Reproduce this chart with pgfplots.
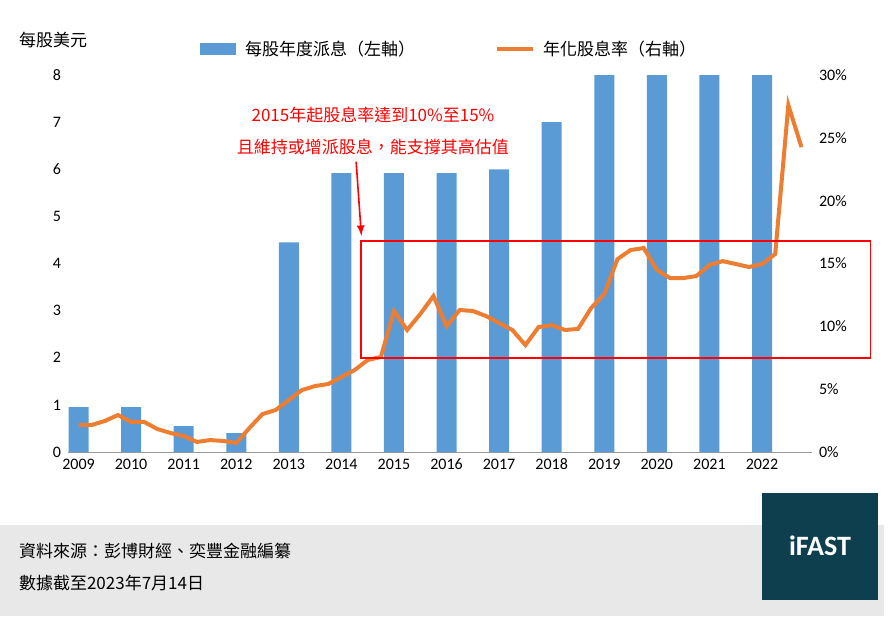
\documentclass[border=0pt]{standalone}
\usepackage{pgfplots}
\pgfplotsset{compat=1.18}
\usepackage{fontspec}
\setmainfont{Carlito}
\newfontfamily\cjk{Noto Sans CJK TC}
\definecolor{barblue}{HTML}{5B9BD5}
\definecolor{lineor}{HTML}{ED7D31}
\definecolor{teal}{HTML}{0E3F4F}
\begin{document}
\begin{tikzpicture}
\useasboundingbox (0,0) rectangle (447pt,308pt);
\begin{scope}[x=0.5pt,y=-0.5pt,yshift=308pt]
\fill[black!9] (0,525) rectangle (884,616);
\fill[teal] (762,493) rectangle (878,600);
\node[white,font=\bfseries\fontsize{14}{14}\selectfont] at (820,546) {iFAST};
\node[anchor=west,font=\cjk\fontsize{8.5}{10}\selectfont] at (12,551) {資料來源：彭博財經、奕豐金融編纂};
\node[anchor=west,font=\cjk\fontsize{8.5}{10}\selectfont] at (12,583) {數據截至2023年7月14日};
\node[anchor=west,font=\cjk\fontsize{8.5}{10}\selectfont] at (12,40) {每股美元};
\fill[barblue] (200,43) rectangle (236,55);
\node[anchor=west,font=\cjk\fontsize{8.5}{10}\selectfont] at (238,49) {每股年度派息（左軸）};
\draw[lineor,line width=2pt] (497,49) -- (533,49);
\node[anchor=west,font=\cjk\fontsize{8.5}{10}\selectfont] at (536,49) {年化股息率（右軸）};
\end{scope}
\begin{axis}[at={(34pt,82pt)},anchor=south west,scale only axis,
 width=372pt,height=188.5pt,xmin=2008.8,xmax=2022.95,ymin=0,ymax=8,
 axis y line*=left,axis x line*=bottom,
 y axis line style={draw=none},x axis line style={black!40},
 ytick={0,...,8},xtick={2009,...,2022},xticklabel style={/pgf/number format/1000 sep=},
 major tick length=0pt,
 tick label style={font=\fontsize{8}{9}\selectfont},
 /pgf/number format/assume math mode=true]
\addplot[ybar,bar width=10pt,fill=barblue,draw=none] coordinates {
(2009,0.95)(2010,0.95)(2011,0.55)(2012,0.4)(2013,4.45)(2014,5.92)(2015,5.92)(2016,5.92)(2017,6.0)(2018,7.0)(2019,8)(2020,8)(2021,8)(2022,8)};
\end{axis}
\begin{axis}[at={(34pt,82pt)},anchor=south west,scale only axis,clip=false,
 width=372pt,height=188.5pt,xmin=2008.8,xmax=2022.95,ymin=0,ymax=30,
 axis y line*=right,axis x line=none,y axis line style={draw=none},
 ytick={0,5,...,30},yticklabel={\pgfmathprintnumber{\tick}\%},
 major tick length=0pt,
 tick label style={font=\fontsize{8}{9}\selectfont},
 /pgf/number format/assume math mode=true]
\addplot[lineor,line width=2pt,mark=none] coordinates {
(2009,2.15)(2009.25,2.15)(2009.5,2.47)(2009.75,2.94)(2010,2.39)(2010.25,2.39)(2010.5,1.83)(2010.75,1.51)
(2011,1.27)(2011.25,0.80)(2011.5,0.95)(2011.75,0.88)(2012,0.72)(2012.25,1.91)(2012.5,3.02)(2012.75,3.34)
(2013,4.14)(2013.25,4.93)(2013.5,5.25)(2013.75,5.41)(2014,5.97)(2014.25,6.52)(2014.5,7.32)(2014.75,7.56)
(2015,11.22)(2015.25,9.71)(2015.5,10.98)(2015.75,12.41)(2016,10.02)(2016.25,11.30)(2016.5,11.22)(2016.75,10.82)
(2017,10.26)(2017.25,9.71)(2017.5,8.51)(2017.75,9.94)(2018,10.10)(2018.25,9.71)(2018.5,9.79)(2018.75,11.46)
(2019,12.57)(2019.25,15.35)(2019.5,16.07)(2019.75,16.23)(2020,14.48)(2020.25,13.84)(2020.5,13.84)(2020.75,14.0)
(2021,14.88)(2021.25,15.19)(2021.5,14.96)(2021.75,14.72)(2022,14.96)(2022.25,15.75)(2022.5,27.6)(2022.75,24.26)};
\draw[red,thick] (axis cs:2014.37,7.5) rectangle (axis cs:2024.06,16.8);
\draw[red,-latex,thick] (axis cs:2014.28,23.1) -- (axis cs:2014.38,17.2);
\node[red,font=\cjk\fontsize{8.5}{10}\selectfont] at (axis cs:2014.6,26.8) {2015年起股息率達到10\%至15\%};
\node[red,font=\cjk\fontsize{8.5}{10}\selectfont] at (axis cs:2014.6,24.3) {且維持或增派股息，能支撐其高估值};
\end{axis}
\end{tikzpicture}
\end{document}
